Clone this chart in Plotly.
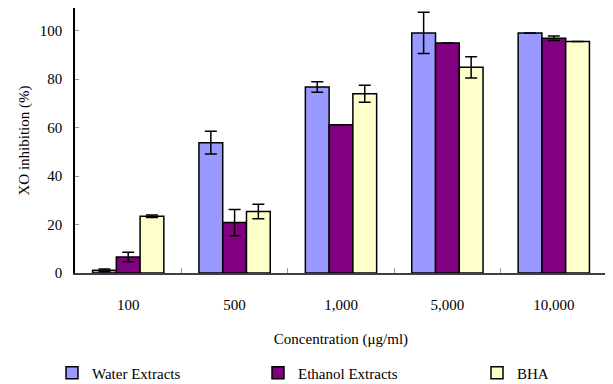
import plotly.graph_objects as go

categories = ["100", "500", "1,000", "5,000", "10,000"]
water = [1.1, 53.8, 76.8, 99.1, 99.1]
water_err = [0.6, 4.7, 2.2, 8.5, 0.0]
ethanol = [6.6, 20.8, 61.2, 95.0, 96.9]
ethanol_err = [2.0, 5.4, 0.0, 0.0, 0.9]
bha = [23.4, 25.4, 74.0, 84.9, 95.6]
bha_err = [0.5, 3.0, 3.5, 4.4, 0.0]

series = [
    ("Water Extracts", water, water_err, "#9999FF", "legend"),
    ("Ethanol Extracts", ethanol, ethanol_err, "#800080", "legend2"),
    ("BHA", bha, bha_err, "#FFFFCC", "legend3"),
]

# page body has an 8px margin; figure is sized so it ends at the window edge
W, H = 605, 376
font = "Liberation Serif"
fig = go.Figure()
for name, vals, errs, color, lg in series:
    fig.add_trace(go.Bar(
        name=name, x=categories, y=vals, legend=lg,
        marker=dict(color=color, line=dict(color="black", width=1.5)),
        error_y=dict(type="data", array=errs, visible=True, color="black",
                     thickness=1.5, width=6),
    ))

def leg(xpx):
    return dict(xref="container", yref="container", x=xpx / W, xanchor="left",
                y=1 - 365 / H, yanchor="middle", orientation="h",
                font=dict(family=font, size=15), itemwidth=30,
                bgcolor="rgba(0,0,0,0)")

fig.update_layout(
    width=W, height=H,
    margin=dict(l=67, r=6, t=0, b=111, autoexpand=False),
    paper_bgcolor="white", plot_bgcolor="white",
    barmode="group", bargap=0.33, bargroupgap=0,
    font=dict(family=font, size=15, color="black"),
    showlegend=True,
    legend=leg(44), legend2=leg(250), legend3=leg(469),
)
fig.update_xaxes(
    type="category", showline=True, linecolor="#404040", linewidth=2,
    ticks="inside", tickson="boundaries", ticklen=5, tickcolor="#999999",
    ticklabelstandoff=17, automargin=False,
    title=dict(text="Concentration (μg/ml)", standoff=21, font=dict(size=15)),
    showgrid=False, zeroline=False,
)
fig.update_yaxes(
    range=[0, 109.4], tickvals=[0, 20, 40, 60, 80, 100],
    showline=True, linecolor="black", linewidth=1.5,
    ticks="inside", ticklen=4, tickcolor="#999999",
    ticklabelstandoff=8, automargin=False,
    title=dict(text="XO inhibition (%)", standoff=7, font=dict(size=15)),
    showgrid=False, zeroline=False,
)
fig.write_html("out.html")
